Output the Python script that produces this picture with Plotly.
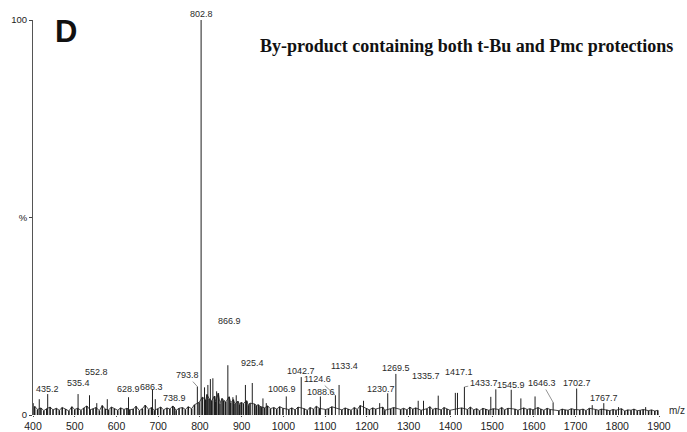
import plotly.graph_objects as go

# labelled peaks (m/z, relative intensity %)
peak_mz = [435.2, 535.4, 552.8, 628.9, 686.3, 738.9, 793.8, 802.8, 866.9, 925.4,
           1006.9, 1042.7, 1088.6, 1124.6, 1133.4, 1230.7, 1269.5, 1335.7, 1417.1,
           1433.7, 1545.9, 1646.3, 1702.7, 1767.7]
peak_pct = [5.3, 5.0, 3.0, 4.5, 6.5, 2.0, 7.2, 100, 12.6, 8.1,
            4.7, 9.6, 4.7, 5.0, 7.6, 3.0, 10.4, 3.6, 5.6,
            7.1, 6.4, 3.2, 6.7, 3.0]
# where each label sits (m/z, %)
label_mz = [435, 510, 553, 629, 683, 739, 769, 803, 871, 925,
            996, 1041, 1090, 1082, 1146, 1234, 1270, 1341, 1421,
            1480, 1546, 1620, 1703, 1768]
label_pct = [6.6, 8.2, 11.0, 6.6, 7.2, 4.2, 10.1, 101.5, 23.8, 13.1,
             6.6, 11.2, 5.9, 9.1, 12.3, 6.7, 12.0, 9.9, 10.8,
             8.1, 7.6, 8.1, 8.1, 4.2]
leader = [793.8, 1124.6, 1433.7, 1646.3]

# other unlabelled peaks
minor_mz = [400.5, 415, 508, 578, 693, 811, 819, 825, 831, 840, 879, 887, 909, 951, 959,
            1192, 1250, 1323, 1371, 1412, 1497, 1509, 1569, 1603, 1740, 1803, 1868]
minor_pct = [3.0, 4.0, 5.3, 4.0, 4.0, 7.0, 7.6, 9.1, 9.3, 6.0, 4.5, 5.0, 7.6, 4.2, 3.0,
             3.6, 5.5, 3.6, 4.9, 5.6, 4.6, 6.5, 4.2, 4.7, 2.5, 2.0, 2.0]

# baseline "grass"
noise_mz = [404, 411, 419, 426, 433, 441, 448, 456, 463, 470,
            478, 486, 493, 500, 507, 515, 522, 529, 537, 544,
            551, 559, 566, 573, 581, 588, 595, 603, 610, 618,
            625, 632, 640, 647, 655, 662, 669, 677, 684, 691,
            699, 706, 713, 721, 728, 735, 743, 750, 758, 765,
            772, 780, 787, 798, 806, 814, 817, 822, 828, 835,
            838, 844, 848, 853, 857, 862, 870, 874, 880, 884,
            891, 895, 899, 904, 912, 916, 920, 931, 935, 940,
            944, 948, 955, 962, 969, 977, 984, 991, 999, 1013,
            1020, 1028, 1035, 1050, 1057, 1064, 1072, 1079, 1086, 1101,
            1108, 1116, 1140, 1148, 1155, 1162, 1170, 1177, 1184, 1199,
            1206, 1214, 1221, 1238, 1243, 1257, 1264, 1281, 1288, 1296,
            1303, 1310, 1317, 1330, 1344, 1351, 1358, 1365, 1378, 1385,
            1392, 1399, 1427, 1441, 1448, 1456, 1463, 1470, 1478, 1485,
            1492, 1503, 1516, 1523, 1530, 1538, 1555, 1562, 1576, 1584,
            1591, 1598, 1610, 1617, 1624, 1632, 1639, 1660, 1668, 1675,
            1682, 1690, 1697, 1710, 1718, 1725, 1733, 1748, 1755, 1762,
            1775, 1782, 1790, 1797, 1810, 1818, 1825, 1833, 1840, 1848,
            1855, 1862, 1875, 1882, 1890, 1897]
noise_pct = [2.2, 1.4, 1.8, 1.1, 1.6, 2.0, 1.3, 1.7, 1.2, 1.9,
             1.5, 1.0, 2.1, 1.4, 1.7, 1.2, 1.8, 2.3, 1.3, 1.6,
             1.9, 1.1, 2.4, 1.5, 1.3, 2.0, 1.6, 1.2, 1.8, 1.4,
             1.7, 1.3, 1.5, 2.2, 1.1, 1.6, 2.5, 1.4, 1.9, 1.2,
             1.6, 2.0, 1.3, 1.8, 1.5, 2.3, 1.2, 1.7, 1.9, 1.4,
             2.1, 1.6, 2.6, 3.2, 4.5, 3.8, 5.2, 4.1, 3.6, 4.8,
             3.4, 5.5, 3.0, 4.2, 3.7, 3.3, 4.6, 3.1, 3.9, 2.8,
             3.5, 2.7, 3.2, 2.9, 3.6, 2.5, 3.0, 2.8, 2.4, 2.6,
             2.2, 2.0, 1.8, 2.3, 1.6, 1.9, 1.5, 2.1, 1.7, 1.4,
             1.8, 1.3, 2.0, 1.6, 1.2, 1.9, 1.5, 2.2, 1.7, 1.4,
             1.6, 2.1, 1.3, 1.8, 1.5, 1.2, 1.9, 1.4, 2.4, 1.7,
             1.3, 1.8, 1.5, 2.0, 1.2, 1.6, 1.9, 1.4, 1.7, 1.3,
             2.0, 1.5, 1.8, 1.2, 1.6, 2.1, 1.4, 1.7, 1.3, 1.9,
             1.5, 1.2, 1.8, 1.4, 2.0, 1.3, 1.6, 1.1, 1.7, 1.5,
             1.2, 1.6, 1.4, 1.9, 1.3, 1.7, 1.5, 1.2, 1.8, 1.4,
             1.6, 1.3, 1.9, 1.5, 1.2, 1.7, 1.4, 1.1, 1.5, 1.3,
             1.2, 1.6, 1.4, 1.3, 1.5, 1.1, 1.7, 1.4, 1.2, 1.5,
             1.3, 1.1, 1.4, 1.2, 1.6, 1.0, 1.3, 1.2, 1.5, 1.1,
             1.2, 1.4, 1.1, 1.3, 1.0, 1.2]

xticks = [400, 500, 600, 700, 800, 900, 1000, 1100, 1200, 1300, 1400, 1500, 1600, 1700, 1800, 1900]


def sticks(mzs, pcts):
    xs, ys = [], []
    for m, p in zip(mzs, pcts):
        xs += [m, m, None]
        ys += [0, p, None]
    return xs, ys


fig = go.Figure()
nx, ny = sticks(noise_mz, noise_pct)
fig.add_trace(go.Scatter(x=nx, y=ny, mode='lines', line=dict(color='#1e1e1e', width=1.6),
                         hoverinfo='skip', showlegend=False))
#profile through the grass tops
fig.add_trace(go.Scatter(x=noise_mz, y=noise_pct, mode='lines', line=dict(color='#1e1e1e', width=0.8),
                         hoverinfo='skip', showlegend=False))
px_, py_ = sticks(minor_mz + peak_mz, minor_pct + peak_pct)
fig.add_trace(go.Scatter(x=px_, y=py_, mode='lines', line=dict(color='#1e1e1e', width=1),
                         hoverinfo='skip', showlegend=False))

#plot height 395 px for 100 %
pxpct = 3.95
lblfont = dict(family='Liberation Sans, Arial', size=9, color='#2a2a2a')
for m, p, lx, ly in zip(peak_mz, peak_pct, label_mz, label_pct):
    txt = '{:.1f}'.format(m)
    if m in leader:
        fig.add_annotation(x=m, y=p, ax=lx, ay=ly, axref='x', ayref='y', text=txt,
                           showarrow=True, arrowhead=0, arrowwidth=0.7, arrowcolor='#666',
                           font=lblfont, standoff=0)
    elif ly > 100:
        fig.add_annotation(x=lx, y=100, yshift=(ly - 100) * pxpct, text=txt, showarrow=False, font=lblfont)
    else:
        fig.add_annotation(x=lx, y=ly, text=txt, showarrow=False, font=lblfont)

fig.add_annotation(xref='paper', yref='paper', x=1.0128, y=-0.008, xanchor='left', text='m/z',
                   showarrow=False, font=dict(family='Liberation Sans, Arial', size=10, color='#2a2a2a'))
fig.add_annotation(xref='paper', yref='paper', x=0.032, y=0.97, xanchor='left', yanchor='middle',
                   text='<b>D</b>', showarrow=False,
                   font=dict(family='Liberation Sans, Arial', size=31, color='#111'))
fig.add_annotation(xref='paper', yref='paper', x=0.3594, y=0.935, xanchor='left', yanchor='middle',
                   text='<b>By-product containing both t-Bu and Pmc protections</b>', showarrow=False,
                   font=dict(family='Liberation Serif, Times New Roman', size=18, color='#111'))

fig.update_layout(width=687, height=432, plot_bgcolor='white', paper_bgcolor='white',
                  margin=dict(l=33, r=28, t=20, b=17, autoexpand=False))
fig.update_xaxes(range=[400, 1900], tickvals=xticks, ticks='outside', ticklen=1, tickcolor='#444',
                 showgrid=False, zeroline=False, showline=False, automargin=False,
                 tickfont=dict(family='Liberation Sans, Arial', size=10.5, color='#222'))
fig.update_yaxes(range=[0, 100], tickvals=[0, 50, 100], ticktext=['0', '%', '100'],
                 ticks='outside', ticklen=3, tickcolor='#444', automargin=False,
                 showgrid=False, zeroline=False, showline=True, linecolor='#555', linewidth=1,
                 tickfont=dict(family='Liberation Sans, Arial', size=9.5, color='#222'))

#page body has a default margin; drop it so the figure sits at the window corner
fig.write_html("out.html", config={'displayModeBar': False},
               post_script="document.body.style.margin='0';")
